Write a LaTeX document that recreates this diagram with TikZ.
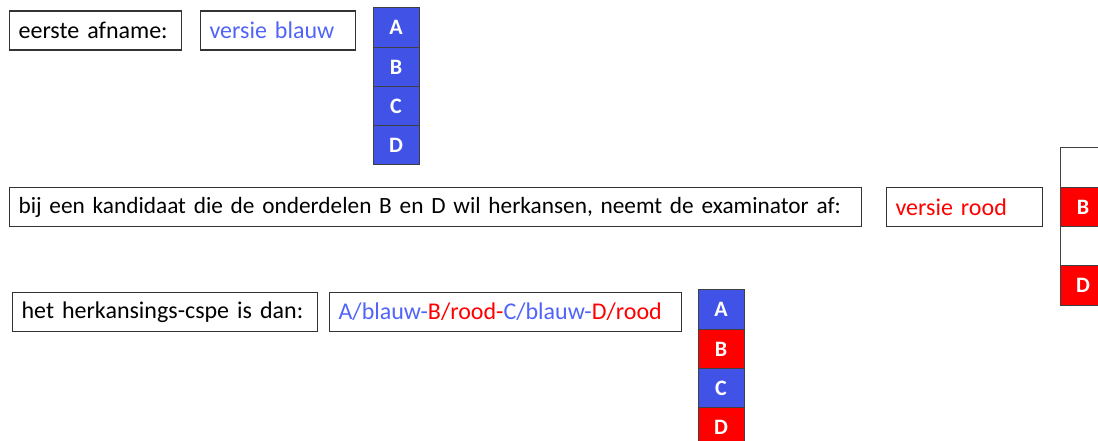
\documentclass[tikz,border=0pt]{standalone}
\usepackage{fontspec}
\setmainfont[WordSpace=0.75]{Carlito}
\usepackage{tikz}

\definecolor{blauw}{RGB}{65,83,230}
\definecolor{tekstblauw}{RGB}{80,100,250}
\definecolor{rood}{RGB}{255,0,0}

\tikzset{
  box/.style={draw=black!80, line width=1.2pt, minimum height=39pt, inner xsep=9pt,
    align=left, anchor=west, font=\fontsize{24}{28}\selectfont},
  cell/.style={draw=black!75, line width=1pt, minimum width=46pt, minimum height=39.25pt,
    inner sep=0pt, text=white, font=\fontsize{22}{26}\selectfont\bfseries}
}

\begin{document}
\begin{tikzpicture}[x=1pt,y=-1pt]

	\useasboundingbox (0,0) rectangle (1098,441);
	\clip (0,0) rectangle (1098,441);

	% eerste afname
	\node[box, text width=154pt] (afname) at (9,30.5) {eerste afname:};
	\node[box, text width=137pt, text=tekstblauw] (blauw) at (200,30.5) {versie blauw};
	\foreach \l [count=\i] in {A,B,C,D}
		\node[cell, fill=blauw] (blauw\l) at (396,{8+39.25*\i-19.625}) {\l};

	% herkansing
	\node[box, text width=834pt, font=\fontsize{23.3}{28}\selectfont] (herkansen) at (9,207) {\mbox{bij een kandidaat die de onderdelen B en D wil herkansen, neemt de examinator af:}};
	\node[box, text width=138pt, text=rood] (rood) at (886,207) {versie rood};
	\node[cell, fill=white] (roodA) at (1083,167.6) {};
	\node[cell, fill=rood] (roodB) at (1083,206.9) {B};
	\node[cell, fill=white] (roodC) at (1083,246.1) {};
	\node[cell, fill=rood] (roodD) at (1083,285.4) {D};

	% resultaat
	\node[box, text width=287pt] (cspe) at (12,312) {het herkansings-cspe is dan:};
	\node[box, text width=334pt] (combi) at (329,312)
		{\textcolor{tekstblauw}{A/blauw-}\textcolor{rood}{B/rood-}\textcolor{tekstblauw}{C/blauw-}\textcolor{rood}{D/rood}};
	\node[cell, fill=blauw] (combiA) at (721,309.6) {A};
	\node[cell, fill=rood] (combiB) at (721,348.9) {B};
	\node[cell, fill=blauw] (combiC) at (721,388.1) {C};
	\node[cell, fill=rood] (combiD) at (721,427.4) {D};

\end{tikzpicture}
\end{document}
